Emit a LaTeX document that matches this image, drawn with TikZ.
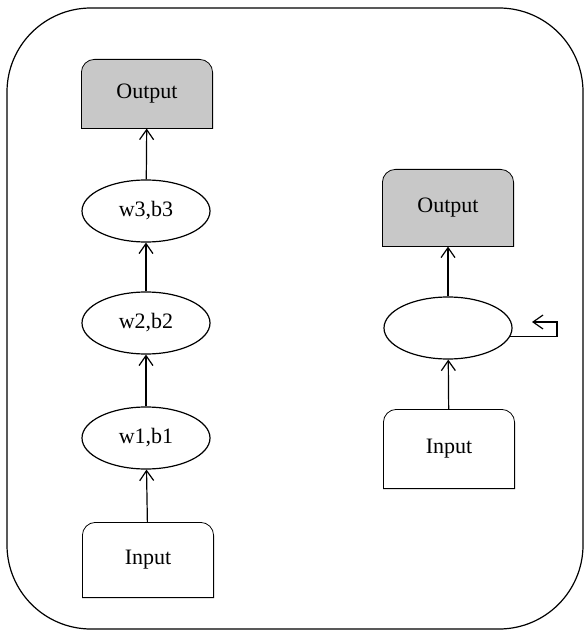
\documentclass[tikz,border=0pt]{standalone}
\usepackage{fontspec}
\setmainfont{Liberation Serif}
\usepackage{tikz}
\usetikzlibrary{arrows.meta,backgrounds,shapes.geometric}
\definecolor{outgray}{RGB}{200,200,200}

\begin{document}
\begin{tikzpicture}[x=0.5pt,y=-0.5pt,line width=0.6pt]
\tikzstyle{cell}=[rectangle,minimum width=65pt,inner sep=0pt,font=\fontsize{11}{13}\selectfont]
\tikzstyle{unit}=[ellipse,draw,minimum width=64pt,minimum height=31pt,inner sep=0pt,font=\fontsize{11}{13}\selectfont]
\tikzstyle{arr}=[-{Straight Barb[length=5pt,width=7pt]}]
\useasboundingbox (0,0) rectangle (584,630);
\draw [rounded corners=42pt] (7,8) rectangle (583,629);
% stacked network
\node [cell,minimum height=34pt] (outA) at (147,94) {Output};
\node [unit] (w3) at (146,211) {w3,b3};
\node [unit] (w2) at (146,323) {w2,b2};
\node [unit] (w1) at (146,438) {w1,b1};
\node [cell,minimum height=37pt] (inA) at (148,560) {Input};
% recurrent network
\node [cell,minimum height=38pt] (outB) at (448,208) {Output};
\node [unit] (hid) at (448,328) {};
\node [cell,minimum height=39pt] (inB) at (449,449) {Input};
\coordinate (loopA) at (557,322);
\coordinate (loopB) at (532,322);
\begin{scope}[on background layer]
\foreach \nm/\col in {outA/outgray,inA/white,outB/outgray,inB/white}
  \draw [fill=\col] (\nm.south west) [rounded corners=6.5pt] -- (\nm.north west) -- (\nm.north east) [sharp corners] -- (\nm.south east) -- cycle;
\end{scope}
\draw [arr] (inA) -- (w1);
\draw [arr] (w1) -- (w2);
\draw [arr] (w2) -- (w3);
\draw [arr] (w3) -- (outA);
\draw [arr] (inB) -- (hid);
\draw [arr] (hid) -- (outB);
\draw [arr] (hid.-8) -| (loopA) -- (loopB);
\end{tikzpicture}
\end{document}
